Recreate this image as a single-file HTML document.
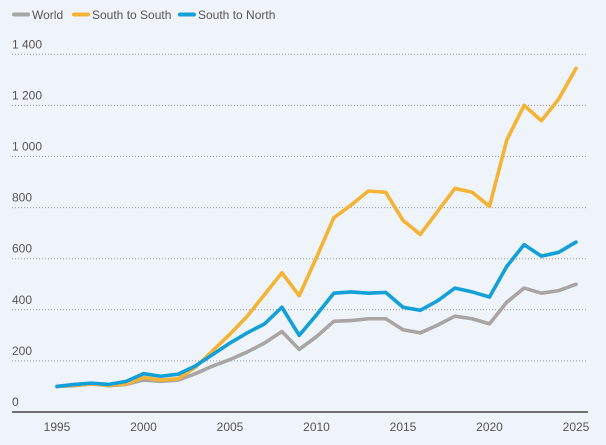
<!DOCTYPE html>
<html><head><meta charset="utf-8"><style>
body{margin:0;background:#eff4fa;font-family:"Liberation Sans",sans-serif;}
svg{display:block}
text{font-family:"Liberation Sans",sans-serif;fill:#555;font-size:12px}
</style></head><body>
<svg id="chart" width="606" height="445">
<rect width="606" height="445" fill="#eff4fa"/>
<g id="legend">
<g><line x1="14" y1="14.5" x2="28" y2="14.5" stroke="#a6a6a6" stroke-width="4" stroke-linecap="round"/><text x="32" y="19" font-size="12.5" fill="#333">World</text></g>
<g><line x1="74" y1="14.5" x2="88" y2="14.5" stroke="#f5b335" stroke-width="4" stroke-linecap="round"/><text x="92" y="19" font-size="12.5" fill="#333">South to South</text></g>
<g><line x1="180" y1="14.5" x2="194" y2="14.5" stroke="#139fd8" stroke-width="4" stroke-linecap="round"/><text x="198" y="19" font-size="12.5" fill="#333">South to North</text></g>
</g>
<g id="grid"></g>
<g id="series"></g>
<g id="xaxis"></g>
</svg>
<script>
const years=[1995,1996,1997,1998,1999,2000,2001,2002,2003,2004,2005,2006,2007,2008,2009,2010,2011,2012,2013,2014,2015,2016,2017,2018,2019,2020,2021,2022,2023,2024,2025];
const world=[100,103,110,103,108,125,120,125,150,180,205,235,270,315,245,295,355,358,365,365,322,310,340,375,365,345,430,485,465,475,500];
const southSouth=[100,105,110,105,110,135,125,130,175,240,305,375,460,545,455,605,760,810,865,860,750,695,785,875,860,805,1065,1200,1140,1225,1345];
const southNorth=[100,108,113,108,120,150,140,148,180,225,270,310,345,410,300,380,465,470,465,468,410,398,435,485,470,450,570,655,610,625,665];
const yTicks=[0,200,400,600,800,1000,1200,1400];
const yTickLabels=["0","200","400","600","800","1 000","1 200","1 400"];
const xTicks=[1995,2000,2005,2010,2015,2020,2025];
const NS="http://www.w3.org/2000/svg";
const x=v=>57+(v-1995)*(576-57)/30;
const y=v=>412-v*0.2555;
function mk(tag,attrs,parent){const e=document.createElementNS(NS,tag);for(const k in attrs)e.setAttribute(k,attrs[k]);parent.appendChild(e);return e;}
const grid=document.getElementById('grid');
yTicks.forEach((t,i)=>{
  if(t>0){const l=mk('line',{x1:12,x2:588,y1:y(t),y2:y(t),stroke:'#999','stroke-width':1,'stroke-dasharray':'1 2'},grid);
  
  }
  const tx=mk('text',{x:12,y:y(t)-6},grid);tx.textContent=yTickLabels[i];
  
  
});
const xa=document.getElementById('xaxis');
const base=mk('line',{x1:12,x2:588,y1:412,y2:412,stroke:'#222','stroke-width':1.3},xa);


xTicks.forEach(t=>{const tx=mk('text',{x:x(t),y:431,'text-anchor':'middle'},xa);tx.textContent=t;
  
  });
const sg=document.getElementById('series');
[[world,'#a8a5a3','world-line'],[southSouth,'#f5b335','south-to-south-line'],[southNorth,'#139fd8','south-to-north-line']].forEach(([d,c,n])=>{
  const p=mk('polyline',{points:d.map((v,i)=>x(years[i])+','+y(v)).join(' '),fill:'none',stroke:c,'stroke-width':3.6,'stroke-linejoin':'round','stroke-linecap':'round'},sg);
  
  
});
</script>
</body></html>
